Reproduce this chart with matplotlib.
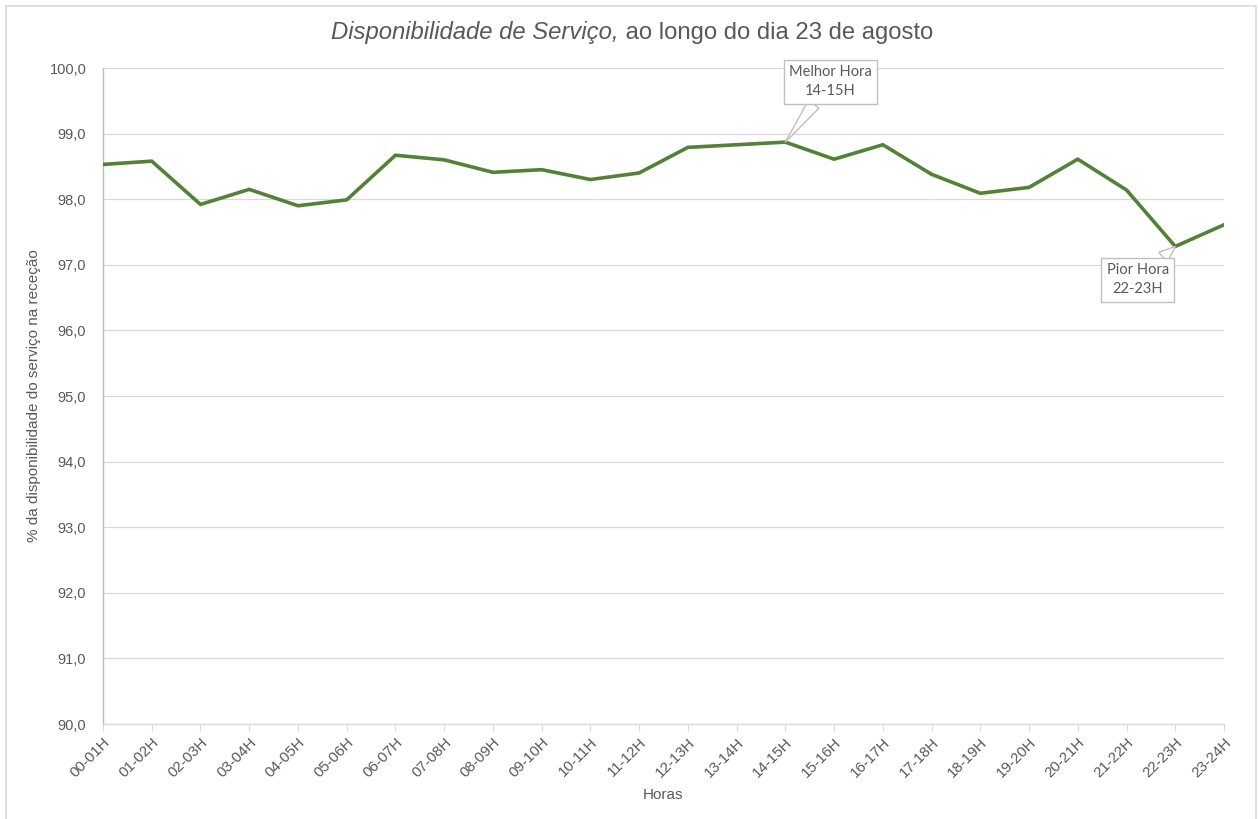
import matplotlib
matplotlib.use("Agg")
import matplotlib.pyplot as plt
from matplotlib.patches import Rectangle
from matplotlib.ticker import FuncFormatter, MultipleLocator

# dados
horas = ["00-01H", "01-02H", "02-03H", "03-04H", "04-05H", "05-06H", "06-07H",
         "07-08H", "08-09H", "09-10H", "10-11H", "11-12H", "12-13H", "13-14H",
         "14-15H", "15-16H", "16-17H", "17-18H", "18-19H", "19-20H", "20-21H",
         "21-22H", "22-23H", "23-24H"]
disponibilidade = [98.53, 98.58, 97.92, 98.15, 97.90, 97.99, 98.67, 98.60,
                   98.41, 98.45, 98.30, 98.40, 98.79, 98.83, 98.87, 98.61,
                   98.83, 98.38, 98.09, 98.18, 98.61, 98.14, 97.28, 97.61]
melhor = 14
pior = 22

cinza = "#595959"
verde = "#538135"
plt.rcParams["font.family"] = ["Liberation Sans", "DejaVu Sans"]

W, H = 1258, 819
fig = plt.figure(figsize=(W / 100, H / 100), dpi=100)
ax = fig.add_axes([103 / W, 1 - 724 / H, (1224 - 103) / W, (724 - 68) / H])

x = list(range(len(horas)))
ax.plot(x, disponibilidade, color=verde, lw=2.6, solid_joinstyle="miter", zorder=3)

ax.set_xlim(0, len(horas) - 1)
ax.set_ylim(90, 100)
ax.yaxis.set_major_locator(MultipleLocator(1))
ax.yaxis.set_major_formatter(FuncFormatter(lambda v, p: f"{v:.1f}".replace(".", ",")))
ax.set_xticks(x)
ax.set_xticklabels(horas, rotation=45, ha="right", rotation_mode="anchor")
ax.grid(axis="y", color="#d9d9d9", lw=0.9)
ax.set_axisbelow(True)

for s in ["top", "right"]:
    ax.spines[s].set_visible(False)
ax.spines["left"].set_color("#a9d18e")
ax.spines["left"].set_linewidth(1.0)
ax.spines["bottom"].set_color("#d9d9d9")
ax.spines["bottom"].set_linewidth(1.0)
ax.tick_params(axis="y", length=0, pad=12, labelsize=10.5, labelcolor=cinza)
ax.tick_params(axis="x", length=5, color="#d9d9d9", pad=3, labelsize=10.8, labelcolor=cinza)

ax.set_xlabel("Horas", fontsize=11, color=cinza, labelpad=6)
ax.set_ylabel("% da disponibilidade do serviço na receção", fontsize=11, color=cinza, labelpad=6)

# título: parte em itálico
t1 = fig.text(0.5, 1 - 33 / H, "Disponibilidade de Serviço,", style="italic", fontsize=17.2,
              color=cinza, ha="right", va="center")
t2 = fig.text(0.5, 1 - 33 / H, " ao longo do dia 23 de agosto", fontsize=17.2,
              color=cinza, ha="left", va="center")
fig.canvas.draw()
r = fig.canvas.get_renderer()
w1 = t1.get_window_extent(r).width
w2 = t2.get_window_extent(r).width
xs = 632 - (w1 + w2) / 2
t1.set_position(((xs + w1) / W, 1 - 33 / H))
t2.set_position(((xs + w1) / W, 1 - 33 / H))

caixa = dict(boxstyle="square,pad=0.38", fc="white", ec="#bfbfbf", lw=1.0)
seta = dict(arrowstyle="wedge,tail_width=0.9,shrink_factor=0.5", fc="white", ec="#bfbfbf",
            lw=1.0, shrinkA=0, shrinkB=0)
ax.annotate(f"Melhor Hora\n{horas[melhor]}", xy=(melhor, disponibilidade[melhor]),
            xytext=(32.5, 43.5), textcoords="offset points", ha="center", va="center",
            fontsize=10.5, color=cinza, family=["Lato", "DejaVu Sans"], linespacing=1.45,
            bbox=caixa, arrowprops=seta, zorder=5, annotation_clip=False)
ax.annotate(f"Pior Hora\n{horas[pior]}", xy=(pior, disponibilidade[pior]),
            xytext=(-27, -24), textcoords="offset points", ha="center", va="center",
            fontsize=10.5, color=cinza, family=["Lato", "DejaVu Sans"], linespacing=1.45,
            bbox=caixa, arrowprops=seta, zorder=5, annotation_clip=False)

fig.patches.append(Rectangle((5.5 / W, -0.05), (1256 - 5.5) / W, 1.05 - 5.5 / H,
                             transform=fig.transFigure, fill=False, ec="#d9d9d9", lw=1.2))

fig.savefig("out.png", dpi=100, facecolor="white")
